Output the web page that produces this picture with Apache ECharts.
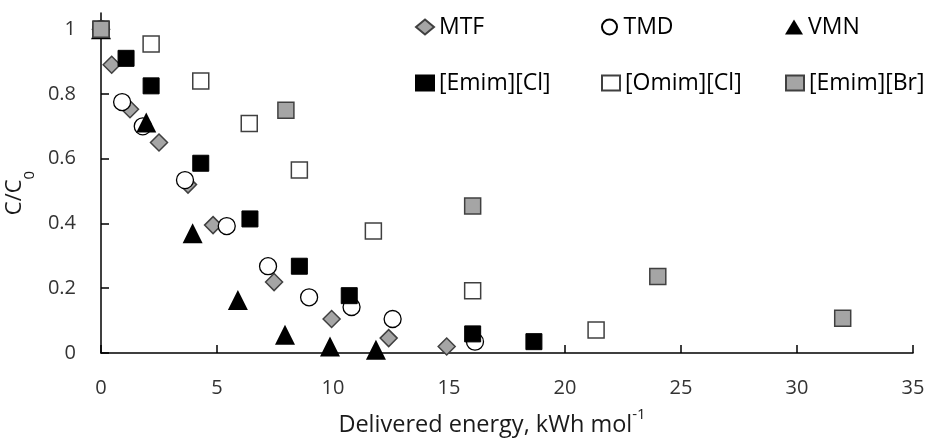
<!DOCTYPE html>
<html>
<head>
<meta charset="utf-8">
<script src="https://cdn.jsdelivr.net/npm/echarts@6/dist/echarts.min.js"></script>
<style>
html,body{margin:0;padding:0;background:#fff;}
#chart{width:928px;height:438px;}
</style>
</head>
<body>
<div id="chart"></div>
<script>
const seriesNames = ['MTF', 'TMD', 'VMN', '[Emim][Cl]', '[Omim][Cl]', '[Emim][Br]'];

const mtfX = [0, 0.46, 1.25, 2.5, 3.75, 4.83, 7.46, 9.94, 12.4, 14.9];
const mtfY = [1, 0.89, 0.753, 0.65, 0.52, 0.395, 0.219, 0.105, 0.046, 0.02];

const tmdX = [0, 0.91, 1.8, 3.62, 5.42, 7.2, 8.97, 10.8, 12.57, 16.12];
const tmdY = [1, 0.775, 0.70, 0.534, 0.392, 0.268, 0.172, 0.142, 0.105, 0.035];

const vmnX = [0, 1.95, 3.95, 5.9, 7.93, 9.87, 11.85];
const vmnY = [1, 0.712, 0.37, 0.164, 0.056, 0.02, 0.01];

const emimClX = [0, 1.08, 2.16, 4.3, 6.42, 8.55, 10.7, 16.02, 18.66];
const emimClY = [1, 0.91, 0.825, 0.586, 0.414, 0.268, 0.177, 0.059, 0.035];

const omimClX = [0, 2.16, 4.3, 6.39, 8.55, 11.74, 16.02, 21.34];
const omimClY = [1, 0.954, 0.84, 0.709, 0.565, 0.377, 0.192, 0.071];

const emimBrX = [0, 7.97, 16.02, 24.0, 31.97];
const emimBrY = [1, 0.75, 0.454, 0.236, 0.107];

const yTicks = [0, 0.2, 0.4, 0.6, 0.8, 1];
const xTicks = [0, 5, 10, 15, 20, 25, 30, 35];

function pairs(xs, ys) { return xs.map((x, i) => [x, ys[i]]); }

const FONT = 'Open Sans';

const styles = [
  { symbol: 'diamond', size: 17, itemStyle: { color: '#a5a5a5', borderColor: '#404040', borderWidth: 1.5, opacity: 1 } },
  { symbol: 'circle', size: 17, itemStyle: { color: '#ffffff', borderColor: '#000000', borderWidth: 1.3, opacity: 1 } },
  { symbol: 'triangle', size: 20, itemStyle: { color: '#000000', borderColor: '#000000', borderWidth: 0, opacity: 1 } },
  { symbol: 'rect', size: 16, itemStyle: { color: '#000000', borderColor: '#000000', borderWidth: 1, opacity: 1 } },
  { symbol: 'rect', size: 16, itemStyle: { color: '#ffffff', borderColor: '#404040', borderWidth: 1.5, opacity: 1 } },
  { symbol: 'rect', size: 16, itemStyle: { color: '#a5a5a5', borderColor: '#404040', borderWidth: 1.5, opacity: 1 } }
];
const dataSets = [
  pairs(mtfX, mtfY), pairs(tmdX, tmdY), pairs(vmnX, vmnY),
  pairs(emimClX, emimClY), pairs(omimClX, omimClY), pairs(emimBrX, emimBrY)
];

const legendPos = [
  { left: 415, top: 13 }, { left: 601, top: 13 }, { left: 785, top: 13 },
  { left: 415, top: 69 }, { left: 601, top: 69 }, { left: 785, top: 69 }
];

const series = seriesNames.map((name, i) => ({
  name: name,
  type: 'scatter',
  symbol: styles[i].symbol,
  symbolSize: styles[i].size,
  itemStyle: styles[i].itemStyle,
  data: dataSets[i],
  z: 2 + i,
  emphasis: { disabled: true }
}));

const legends = seriesNames.map((name, i) => ({
  data: [name],
  left: legendPos[i].left,
  top: legendPos[i].top,
  padding: 0,
  itemWidth: 18,
  itemHeight: 15,
  selectedMode: false,
  textStyle: { fontFamily: FONT, fontSize: 23, color: '#000', lineHeight: 28 }
}));

const chart = echarts.init(document.getElementById('chart'), null, { renderer: 'canvas' });
chart.setOption({
  animation: false,
  backgroundColor: '#ffffff',
  grid: { left: 101, right: 15, top: 13, bottom: 85, containLabel: false, outerBoundsMode: 'none' },
  legend: legends,
  xAxis: {
    type: 'value',
    min: 0, max: 35, interval: 5,
    name: '{t|Delivered energy, kWh mol}{s|-1}',
    nameLocation: 'middle',
    nameGap: 54,
    nameTextStyle: {
      padding: [0, 30, 0, 0],
      rich: {
        t: { fontFamily: FONT, fontSize: 23.5, color: '#1a1a1a', verticalAlign: 'bottom', lineHeight: 30 },
        s: { fontFamily: FONT, fontSize: 15, color: '#1a1a1a', verticalAlign: 'top', lineHeight: 17 }
      }
    },
    axisLine: { show: true, onZero: false, lineStyle: { color: '#000', width: 1.5 } },
    axisTick: { show: true, inside: true, length: 8, lineStyle: { color: '#000', width: 1.5 } },
    axisLabel: { fontFamily: FONT, fontSize: 20, color: '#333', margin: 25,
      formatter: v => String(v) },
    splitLine: { show: false }
  },
  yAxis: {
    type: 'value',
    min: 0, max: 1.05,
    name: '{a|C/C}{b|0}',
    nameLocation: 'middle',
    nameRotate: 90,
    nameGap: 57,
    nameTextStyle: {
      padding: [0, 20, 0, 0],
      rich: {
        a: { fontFamily: FONT, fontSize: 22, color: '#1a1a1a', verticalAlign: 'top', lineHeight: 27 },
        b: { fontFamily: FONT, fontSize: 15, color: '#1a1a1a', verticalAlign: 'bottom', lineHeight: 33 }
      }
    },
    axisLine: { show: true, onZero: false, lineStyle: { color: '#000', width: 1.5 } },
    axisTick: { show: true, inside: true, length: 8, customValues: yTicks, lineStyle: { color: '#000', width: 1.5 } },
    axisLabel: { fontFamily: FONT, fontSize: 20, color: '#333', margin: 25, customValues: yTicks,
      formatter: v => String(Math.round(v * 10) / 10) },
    splitLine: { show: false }
  },
  series: series
});
</script>
</body>
</html>
